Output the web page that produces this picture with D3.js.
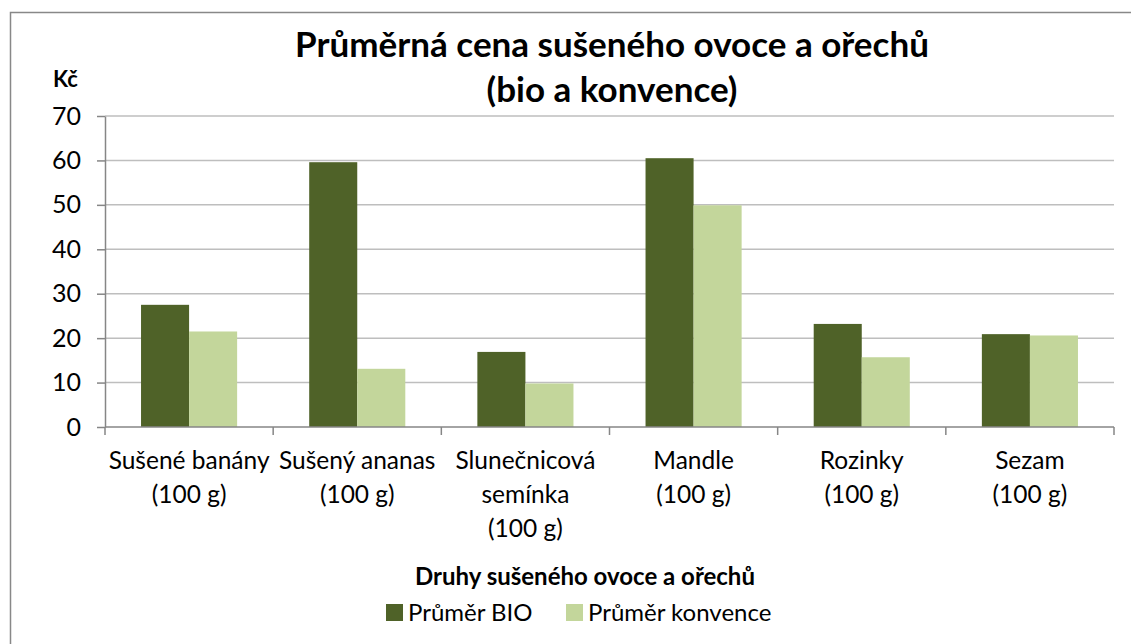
<!DOCTYPE html>
<html>
<head>
<meta charset="utf-8">
<script src="https://cdn.jsdelivr.net/npm/d3@7"></script>
<style>
  body { margin: 0; background: #fff; }
  svg { font-family: Lato, "Open Sans", sans-serif; }
</style>
</head>
<body>
<script>
var width = 1131;
var height = 644;

// data
var categories = [
    ["Sušené banány", "(100 g)"],
    ["Sušený ananas", "(100 g)"],
    ["Slunečnicová", "semínka", "(100 g)"],
    ["Mandle", "(100 g)"],
    ["Rozinky", "(100 g)"],
    ["Sezam", "(100 g)"]
];
var seriesNames = ["Průměr BIO", "Průměr konvence"];
var bioValues = [27.5, 59.6, 16.9, 60.5, 23.2, 20.9];
var konvValues = [21.5, 13.1, 9.8, 49.9, 15.7, 20.6];
var yTicks = [0, 10, 20, 30, 40, 50, 60, 70];
var colours = ["#4F6228", "#C3D69B"];

var margin = {left: 105, right: 17, top: 116, bottom: 217};

var svg = d3.select("body").append("svg")
    .attr("width", width)
    .attr("height", height);

svg.append("rect")
    .attr("x", 10.5).attr("y", 12.5)
    .attr("width", width).attr("height", height)
    .attr("fill", "#fff")
    .attr("stroke", "#888").attr("stroke-width", 1.5);

var x0 = d3.scaleBand()
    .domain(d3.range(categories.length))
    .range([margin.left, width - margin.right]);

var x1 = d3.scaleBand()
    .domain(d3.range(seriesNames.length))
    .range([0, x0.bandwidth()])
    .paddingOuter(0.75)
    .paddingInner(0);

var y = d3.scaleLinear()
    .domain([0, 70])
    .range([height - margin.bottom, margin.top]);

// gridlines
svg.append("g")
    .selectAll("line")
    .data(yTicks.slice(1))
    .enter().append("line")
    .attr("x1", margin.left).attr("x2", width - margin.right)
    .attr("y1", function (d) { return y(d); })
    .attr("y2", function (d) { return y(d); })
    .attr("stroke", "#BEBEBE").attr("stroke-width", 1.5);

// bars
var rows = d3.range(categories.length).map(function (i) { return [bioValues[i], konvValues[i]]; });

var groups = svg.append("g")
    .selectAll("g")
    .data(rows)
    .enter().append("g")
    .attr("transform", function (d, i) { return "translate(" + x0(i) + ",0)"; });

groups.selectAll("rect")
    .data(function (d) { return d; })
    .enter().append("rect")
    .attr("x", function (d, j) { return x1(j); })
    .attr("y", function (d) { return y(d); })
    .attr("width", x1.bandwidth())
    .attr("height", function (d) { return y(0) - y(d); })
    .attr("fill", function (d, j) { return colours[j]; });

// y axis
var yAxis = svg.append("g")
    .attr("transform", "translate(" + margin.left + ",0)")
    .call(d3.axisLeft(y).tickValues(yTicks).tickSize(8).tickSizeOuter(0).tickPadding(16));
yAxis.select(".domain").attr("stroke", "#868686").attr("stroke-width", 1.5);
yAxis.selectAll(".tick line").attr("stroke", "#868686").attr("stroke-width", 1.5);
yAxis.selectAll(".tick text").attr("font-size", 25).attr("fill", "#000").attr("font-family", "Lato");

// x axis
var xAxisG = svg.append("g");
xAxisG.append("line")
    .attr("x1", margin.left).attr("x2", width - margin.right)
    .attr("y1", y(0)).attr("y2", y(0))
    .attr("stroke", "#868686").attr("stroke-width", 1.5);
xAxisG.selectAll(".xt")
    .data(d3.range(categories.length + 1))
    .enter().append("line")
    .attr("x1", function (i) { return margin.left + i * x0.bandwidth(); })
    .attr("x2", function (i) { return margin.left + i * x0.bandwidth(); })
    .attr("y1", y(0)).attr("y2", y(0) + 8)
    .attr("stroke", "#868686").attr("stroke-width", 1.5);

xAxisG.selectAll(".xl")
    .data(categories)
    .enter().append("text")
    .attr("text-anchor", "middle")
    .attr("font-size", 24.5)
    .attr("fill", "#000")
    .attr("transform", function (d, i) { return "translate(" + (x0(i) + x0.bandwidth() / 2) + "," + (y(0) + 42) + ")"; })
    .selectAll("tspan")
    .data(function (d) { return d; })
    .enter().append("tspan")
    .attr("x", 0)
    .attr("y", function (d, k) { return k * 34; })
    .text(function (d) { return d; });

// titles
svg.append("text")
    .attr("x", 612).attr("y", 57)
    .attr("text-anchor", "middle")
    .attr("font-size", 35).attr("font-weight", "bold")
    .text("Průměrná cena sušeného ovoce a ořechů");
svg.append("text")
    .attr("x", 612).attr("y", 102)
    .attr("text-anchor", "middle")
    .attr("font-size", 35).attr("font-weight", "bold")
    .text("(bio a konvence)");

svg.append("text")
    .attr("x", 53).attr("y", 87)
    .attr("font-size", 22).attr("font-weight", "bold")
    .text("Kč");

svg.append("text")
    .attr("x", 585).attr("y", 585)
    .attr("text-anchor", "middle")
    .attr("font-size", 24).attr("font-weight", "bold")
    .text("Druhy sušeného ovoce a ořechů");

// legend
var legendX = [386, 566];
var legend = svg.append("g")
    .selectAll("g")
    .data(seriesNames)
    .enter().append("g")
    .attr("transform", function (d, i) { return "translate(" + legendX[i] + ",604)"; });
legend.append("rect")
    .attr("width", 17).attr("height", 17)
    .attr("fill", function (d, i) { return colours[i]; });
legend.append("text")
    .attr("x", 22).attr("y", 17)
    .attr("font-size", 24)
    .text(function (d) { return d; });
</script>
</body>
</html>
